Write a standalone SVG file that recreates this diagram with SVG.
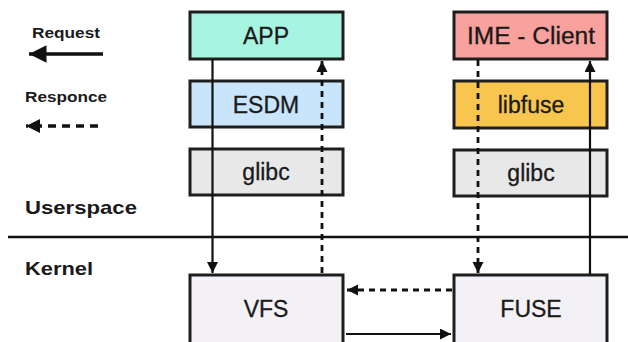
<svg xmlns="http://www.w3.org/2000/svg" width="628" height="342" viewBox="0 0 628 342">
<style>
.box{stroke:#1e1e1e;stroke-width:3}
.lbl{font-family:"Liberation Sans",Arial,sans-serif;font-size:23px;fill:#1a1a1a;text-anchor:middle;stroke:#1a1a1a;stroke-width:0.3}
.side{font-family:"Liberation Sans",Arial,sans-serif;font-weight:bold;fill:#1a1a1a}
.solid{stroke:#111;stroke-width:2.2;fill:none}
.dash{stroke:#111;stroke-width:2.8;fill:none;stroke-dasharray:6 5}
</style>
<defs>
<marker id="ah" viewBox="0 0 10 10" refX="10" refY="5" markerWidth="5" markerHeight="5" orient="auto" markerUnits="strokeWidth"><path d="M0,0 L10,5 L0,10 z" fill="#111"/></marker>
<marker id="ahd" viewBox="0 0 10 10" refX="10" refY="5" markerWidth="4" markerHeight="4" orient="auto" markerUnits="strokeWidth"><path d="M0,0 L10,5 L0,10 z" fill="#111"/></marker>
</defs>
<rect width="628" height="342" fill="#fff"/>
<g id="legend">
<text class="side" x="66" y="38" font-size="15" text-anchor="middle" textLength="68" lengthAdjust="spacingAndGlyphs">Request</text>
<line x1="103" y1="54" x2="29" y2="54" stroke="#111" stroke-width="3.5" marker-end="url(#ah)"/>
<text class="side" x="66" y="102" font-size="15" text-anchor="middle" textLength="82" lengthAdjust="spacingAndGlyphs">Responce</text>
<line x1="98" y1="126" x2="26" y2="126" stroke="#111" stroke-width="3.5" stroke-dasharray="8 6" marker-end="url(#ahd)"/>
</g>
<g id="layers">
<text class="side" x="25" y="214" font-size="19" textLength="112" lengthAdjust="spacingAndGlyphs">Userspace</text>
<text class="side" x="25" y="275" font-size="19" textLength="68" lengthAdjust="spacingAndGlyphs">Kernel</text>
<line x1="8" y1="237" x2="628" y2="237" stroke="#111" stroke-width="2.5"/>
</g>
<g id="app"><rect class="box" x="190" y="12" width="153" height="47" fill="#a7f5e1"/><text class="lbl" x="266" y="44">APP</text></g>
<g id="esdm"><rect class="box" x="190" y="81" width="153" height="46" fill="#c9e5fb"/><text class="lbl" x="266" y="113">ESDM</text></g>
<g id="glibc-left"><rect class="box" x="190" y="149" width="153" height="46" fill="#e8e8e8"/><text class="lbl" x="266" y="180">glibc</text></g>
<g id="ime-client"><rect class="box" x="454" y="12" width="153" height="47" fill="#f9a19d"/><text class="lbl" x="531" y="44" textLength="128" lengthAdjust="spacingAndGlyphs">IME - Client</text></g>
<g id="libfuse"><rect class="box" x="454" y="81" width="153" height="47" fill="#f8c54e"/><text class="lbl" x="531" y="113">libfuse</text></g>
<g id="glibc-right"><rect class="box" x="454" y="150" width="153" height="46" fill="#e8e8e8"/><text class="lbl" x="531" y="181">glibc</text></g>
<g id="vfs"><rect class="box" x="190" y="275" width="153" height="75" fill="#f3f1f6"/><text class="lbl" x="266" y="317">VFS</text></g>
<g id="fuse"><rect class="box" x="454" y="275" width="153" height="75" fill="#f3f1f6"/><text class="lbl" x="531" y="317">FUSE</text></g>
<g id="connectors">
<line class="solid" x1="212.5" y1="60" x2="212.5" y2="273" marker-end="url(#ah)"/>
<line class="dash" x1="322" y1="273" x2="322" y2="61" marker-end="url(#ahd)"/>
<line class="dash" x1="478" y1="60" x2="478" y2="273" marker-end="url(#ahd)"/>
<line class="solid" x1="590" y1="274" x2="590" y2="61" marker-end="url(#ah)"/>
<line class="dash" x1="452" y1="290" x2="347" y2="290" marker-end="url(#ahd)"/>
<line class="solid" x1="346" y1="334" x2="451" y2="334" marker-end="url(#ah)"/>
</g>
</svg>
